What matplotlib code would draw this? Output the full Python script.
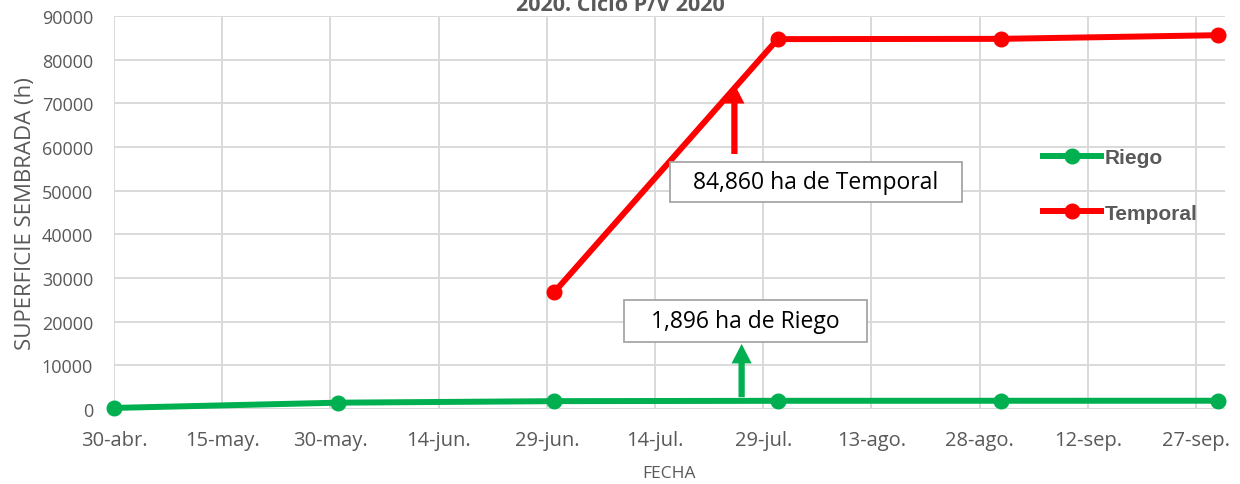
import datetime as dt
import matplotlib
matplotlib.use("Agg")
import matplotlib.pyplot as plt
from matplotlib.patches import Rectangle

# Data
fechas = [dt.date(2020, 4, 30), dt.date(2020, 5, 31), dt.date(2020, 6, 30),
          dt.date(2020, 7, 31), dt.date(2020, 8, 31), dt.date(2020, 9, 30)]
riego = [250, 1450, 1800, 1880, 1890, 1896]
fechas_temporal = fechas[2:]
temporal = [26700, 84700, 84760, 85600]

tick_fechas = [dt.date(2020, 4, 30) + dt.timedelta(days=15 * i) for i in range(11)]
tick_labels = ["30-abr.", "15-may.", "30-may.", "14-jun.", "29-jun.", "14-jul.",
               "29-jul.", "13-ago.", "28-ago.", "12-sep.", "27-sep."]

gris = "#595959"
verde = "#00B050"
rojo = "#FF0000"

plt.rcParams["font.family"] = ["Open Sans", "DejaVu Sans"]

fig = plt.figure(figsize=(12.4, 4.85), dpi=100)
ax = fig.add_axes([0.0919, 0.1546, 0.8960, 0.8104])

ax.plot(fechas, riego, color=verde, lw=4.3, marker="o", ms=10.5, label="Riego",
        clip_on=False, zorder=3)
ax.plot(fechas_temporal, temporal, color=rojo, lw=4.3, marker="o", ms=10.5,
        label="Temporal", clip_on=False, zorder=3)

ax.set_xlim(dt.date(2020, 4, 30), dt.date(2020, 10, 1))
ax.set_ylim(0, 90000)
ax.set_yticks(range(0, 90001, 10000))
ax.set_xticks(tick_fechas)
ax.set_xticklabels(tick_labels)

ax.grid(True, color="#D9D9D9", lw=1.4)
ax.set_axisbelow(True)
for s in ax.spines.values():
    s.set_visible(False)
ax.tick_params(length=0, colors=gris)
ax.tick_params(axis="x", labelsize=14.5, pad=15)
ax.tick_params(axis="y", labelsize=13, pad=15)

ax.set_ylabel("SUPERFICIE SEMBRADA (h)", color=gris, fontsize=16, labelpad=4)
ax.set_xlabel("FECHA", color=gris, fontsize=12.5, labelpad=11)

fig.text(0.5, 0.988, "2020. Ciclo P/V 2020", ha="center", va="center",
         fontsize=15.5, fontweight="bold", color=gris)

# arrows
base = dt.date(2020, 4, 30)
flecha = "simple,tail_width=0.45,head_width=1.45,head_length=1.4"
ax.annotate("", xy=(base + dt.timedelta(days=86.5), 74400),
            xytext=(base + dt.timedelta(days=86.5), 58400),
            arrowprops=dict(arrowstyle=flecha, mutation_scale=10, fc=rojo,
                            ec="none", shrinkA=0, shrinkB=0), zorder=4)
ax.annotate("", xy=(base + dt.timedelta(days=87.2), 14900),
            xytext=(base + dt.timedelta(days=87.2), 2700),
            arrowprops=dict(arrowstyle=flecha, mutation_scale=10, fc=verde,
                            ec="none", shrinkA=0, shrinkB=0), zorder=4)

# text boxes (axes fraction)
ax.add_patch(Rectangle((0.5005, 0.5267), 0.2628, 0.1018, transform=ax.transAxes,
                       fc="white", ec="#A6A6A6", lw=1.3, zorder=5))
ax.text(0.6319, 0.5776, "84,860 ha de Temporal", transform=ax.transAxes,
        ha="center", va="center", fontsize=16.5, color="black", zorder=6)
ax.add_patch(Rectangle((0.459, 0.1705), 0.2188, 0.1069, transform=ax.transAxes,
                       fc="white", ec="#A6A6A6", lw=1.3, zorder=5))
ax.text(0.568, 0.2239, "1,896 ha de Riego", transform=ax.transAxes,
        ha="center", va="center", fontsize=16.5, color="black", zorder=6)

leg = ax.legend(loc="upper left", bbox_to_anchor=(0.829, 0.685), frameon=False,
                labelspacing=1.75, handlelength=2.75, handletextpad=0.2,
                borderaxespad=0,
                prop=dict(size=15, weight="bold", family="Liberation Sans"))
for t in leg.get_texts():
    t.set_color(gris)

fig.savefig("out.png", dpi=100)
